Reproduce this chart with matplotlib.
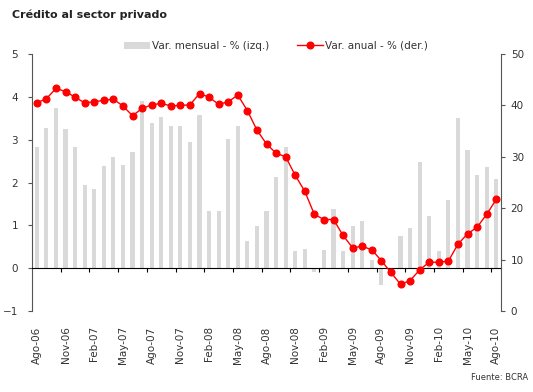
import numpy as np
import matplotlib
matplotlib.use("Agg")
import matplotlib.pyplot as plt

# Data (monthly, Ago-06 .. Ago-10)
mensual = [2.84, 3.28, 3.73, 3.26, 2.84, 1.94, 1.84, 2.39, 2.60, 2.40,
           2.72, 3.91, 3.39, 3.53, 3.33, 3.33, 2.94, 3.57, 1.33, 1.33,
           3.01, 3.31, 0.64, 0.98, 1.33, 2.14, 2.82, 0.40, 0.45, -0.09,
           0.43, 1.38, 0.40, 0.98, 1.11, 0.18, -0.40, 0.0, 0.74, 0.94,
           2.48, 1.21, 0.41, 1.60, 3.50, 2.75, 2.17, 2.36, 2.08]
anual = [40.5, 41.3, 43.3, 42.7, 41.6, 40.5, 40.7, 41.0, 41.2, 39.9,
         38.0, 39.4, 40.1, 40.4, 39.9, 40.0, 40.1, 42.3, 41.6, 40.2,
         40.7, 42.0, 39.0, 35.2, 32.5, 30.7, 30.0, 26.4, 23.3, 18.8,
         17.8, 17.8, 14.7, 12.3, 12.6, 11.9, 9.8, 7.5, 5.2, 5.9,
         8.0, 9.5, 9.5, 9.7, 13.0, 15.0, 16.3, 18.8, 21.7]
tick_labels = ['Ago-06', 'Nov-06', 'Feb-07', 'May-07', 'Ago-07', 'Nov-07',
               'Feb-08', 'May-08', 'Ago-08', 'Nov-08', 'Feb-09', 'May-09',
               'Ago-09', 'Nov-09', 'Feb-10', 'May-10', 'Ago-10']

x = np.arange(len(mensual))
axis_col = '#555555'
txt_col = '#333333'

fig = plt.figure(figsize=(5.33, 3.92), dpi=100)
ax = fig.add_axes([32/533, 1 - 311/392, 469/533, 257/392])
ax2 = ax.twinx()

bars = ax.bar(x, mensual, width=0.42, color='#d9d9d9', label='Var. mensual - % (izq.)')
line, = ax2.plot(x, anual, color='#ff0000', lw=1, marker='o', ms=4.8,
                 mec='#ff0000', mfc='#ff0000', label='Var. anual - % (der.)')

ax.set_xlim(-0.5, len(x) - 0.5)
ax.set_ylim(-1, 5)
ax2.set_ylim(0, 50)
ax.set_yticks(range(-1, 6))
ax2.set_yticks(range(0, 51, 10))

# category axis crossing at zero
ax.spines['bottom'].set_position(('data', 0))
ax.spines['bottom'].set_color('black')
ax.set_xticks(np.arange(2.5, len(x) - 1, 3))
ax.tick_params(axis='x', direction='out', length=3, width=0.8, color='black', labelbottom=False)

sec = ax.secondary_xaxis('bottom')
sec.set_xticks(x[::3])
sec.set_xticklabels(tick_labels, rotation=90, fontsize=7.5, color=txt_col)
sec.tick_params(length=0, pad=11)
sec.spines['bottom'].set_visible(False)

for a in (ax, ax2):
    a.spines['top'].set_visible(False)
ax.spines['right'].set_visible(False)
ax2.spines['bottom'].set_visible(False)
ax2.spines['left'].set_visible(False)
ax.spines['left'].set_color(axis_col)
ax2.spines['right'].set_color(axis_col)
ax.tick_params(axis='y', direction='out', length=3, color=axis_col, labelsize=7.5,
               labelcolor=txt_col, pad=7)
ax2.tick_params(axis='y', direction='out', length=3, color=axis_col, labelsize=7.5,
                labelcolor=txt_col, pad=4)

fig.text(12/533, 1 - 15/392, 'Crédito al sector privado', fontsize=8,
         fontweight='bold', va='center', ha='left', color='#222222')
fig.text(528/533, 1 - 377/392, 'Fuente: BCRA', fontsize=6, ha='right', va='center',
         color=txt_col)

fig.legend([bars, line], [bars.get_label(), line.get_label()], loc='center',
           bbox_to_anchor=(276/533, 1 - 46/392), ncol=2, frameon=False,
           fontsize=7.5, handlelength=2.5, handletextpad=0.2, columnspacing=2.6,
           labelcolor=txt_col)

fig.savefig('out.png', dpi=100)
